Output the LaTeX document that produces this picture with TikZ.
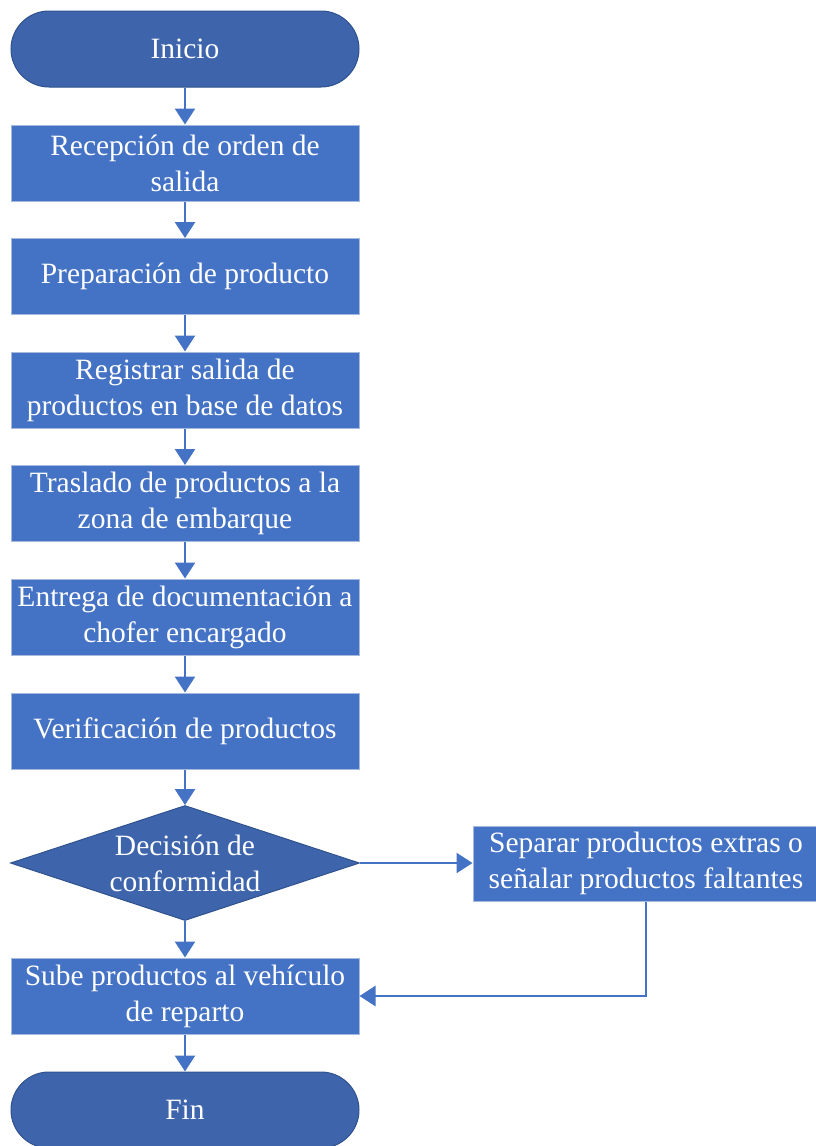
\documentclass[tikz,border=0pt]{standalone}
\usepackage{fontspec}
\setmainfont{Liberation Serif}
\usetikzlibrary{arrows.meta,shapes.geometric}
\definecolor{boxfill}{HTML}{4472C4}
\definecolor{boxline}{HTML}{A7B9DD}
\definecolor{termfill}{HTML}{3E64AC}
\definecolor{termline}{HTML}{2F528F}
\definecolor{arrcol}{HTML}{4472C4}
\begin{document}
\begin{tikzpicture}[x=1pt,y=-1pt,
  every node/.style={font=\fontsize{29.5}{36}\selectfont\rmfamily, text=white, align=center, inner sep=0pt},
  procbox/.style={draw=boxline, line width=1pt, fill=boxfill, minimum width=348pt, minimum height=76pt},
  termbox/.style={draw=termline, line width=1pt, fill=termfill, rounded corners=38pt, minimum width=348pt, minimum height=76pt},
  decbox/.style={diamond, draw=termline, line width=1pt, fill=termfill, minimum width=349pt, minimum height=115pt, aspect=3},
  arr/.style={draw=arrcol, line width=2.6pt, -{Triangle[width=20pt,length=16pt]}}]
\useasboundingbox (0,0) rectangle (816,1146);
\node[termbox] (start) at (185,49) {Inicio};
\node[procbox] (b1) at (185,163) {Recepción de orden de\\salida};
\node[procbox] (b2) at (185,276.5) {Preparación de producto};
\node[procbox] (b3) at (185,390) {Registrar salida de\\productos en base de datos};
\node[procbox] (b4) at (185,503.5) {Traslado de productos a la\\zona de embarque};
\node[procbox] (b5) at (185,617) {Entrega de documentación a\\chofer encargado};
\node[procbox] (b6) at (185,731) {Verificación de productos};
\node[decbox] (dec) at (185,863) {Decisión de\\conformidad};
\node[procbox, minimum width=346pt, minimum height=75pt] (sep) at (646,863.5) {Separar productos extras o\\señalar productos faltantes};
\node[procbox] (b7) at (185,996) {Sube productos al vehículo\\de reparto};
\node[termbox] (fin) at (185,1110) {Fin};
\draw[arr] (start.south) -- (b1.north);
\draw[arr] (b1.south) -- (b2.north);
\draw[arr] (b2.south) -- (b3.north);
\draw[arr] (b3.south) -- (b4.north);
\draw[arr] (b4.south) -- (b5.north);
\draw[arr] (b5.south) -- (b6.north);
\draw[arr] (b6.south) -- (dec.north);
\draw[arr] (dec.east) -- (dec.east -| sep.west);
\draw[arr] (dec.south) -- (b7.north);
\draw[arr] (sep.south) |- (b7.east);
\draw[arr] (b7.south) -- (fin.north);
\end{tikzpicture}
\end{document}
